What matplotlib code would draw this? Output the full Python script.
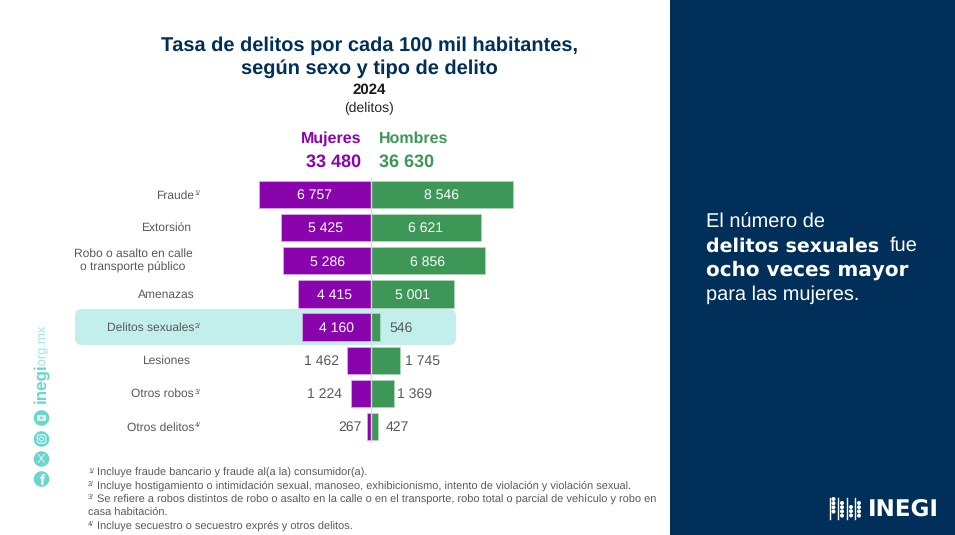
import matplotlib
matplotlib.use('Agg')
import matplotlib.pyplot as plt
from matplotlib.patches import Rectangle, FancyBboxPatch, Circle, Polygon

plt.rcParams['font.family'] = ['Liberation Sans', 'DejaVu Sans']
plt.rcParams['text.hinting'] = 'none'
plt.rcParams['text.hinting_factor'] = 1

categorias = ['Fraude', 'Extorsión', 'Robo o asalto en calle\no transporte público', 'Amenazas',
              'Delitos sexuales', 'Lesiones', 'Otros robos', 'Otros delitos']
notas_cat = ['1/', '', '', '', '2/', '', '3/', '4/']
mujeres = [6757, 5425, 5286, 4415, 4160, 1462, 1224, 267]
hombres = [8546, 6621, 6856, 5001, 546, 1745, 1369, 427]
total_mujeres = '33 480'
total_hombres = '36 630'

notas = ['Incluye fraude bancario y fraude al(a la) consumidor(a).',
         'Incluye hostigamiento o intimidación sexual, manoseo, exhibicionismo, intento de violación y violación sexual.',
         'Se refiere a robos distintos de robo o asalto en la calle o en el transporte, robo total o parcial de vehículo y robo en',
         'Incluye secuestro o secuestro exprés y otros delitos.']

MORADO = '#8a04ae'
VERDE = '#3d9756'
AZUL = '#002f59'
TEAL = '#6ad6cc'
GRIS = '#595959'
W, H = 955, 535


def fmt(v):
    return f'{v:,}'.replace(',', ' ')


fig = plt.figure(figsize=(W / 100, H / 100), dpi=100)

# capa en pixeles para todo lo que no es dato
bg = fig.add_axes([0, 0, 1, 1])
bg.set_xlim(0, W)
bg.set_ylim(H, 0)
bg.axis('off')

bg.add_patch(Rectangle((670, 0), 285, 535, color=AZUL, lw=0))
bg.add_patch(FancyBboxPatch((75, 309), 381, 36, boxstyle='round,pad=0,rounding_size=7',
                            fc='#c2efeb', ec='none'))

# titulo
bg.text(370, 45.5, 'Tasa de delitos por cada 100 mil habitantes,', ha='center', va='center',
        fontsize=14.4, fontweight='bold', color=AZUL)
bg.text(369, 69, 'según sexo y tipo de delito', ha='center', va='center',
        fontsize=14.4, fontweight='bold', color=AZUL)
bg.text(369, 90, '2024', ha='center', va='center', fontsize=11, fontweight='bold', color='#1a1a1a')
bg.text(369, 108, '(delitos)', ha='center', va='center', fontsize=9.8, color='#262626')

bg.text(361, 139, 'Mujeres', ha='right', va='center', fontsize=11.6, fontweight='bold', color=MORADO)
bg.text(379, 139, 'Hombres', ha='left', va='center', fontsize=11.6, fontweight='bold', color=VERDE)
bg.text(361, 162, total_mujeres, ha='right', va='center', fontsize=12.8, fontweight='bold', color=MORADO)
bg.text(379, 162, total_hombres, ha='left', va='center', fontsize=12.8, fontweight='bold', color=VERDE)

# barras
ax = fig.add_axes([0, (H - 443) / H, 1, (443 - 178) / H])
ax.patch.set_alpha(0)
escala = 0.0166  # pixeles por delito
ax.set_xlim(-371 / escala, (W - 371) / escala)
ax.set_ylim(7.5, -0.5)
ax.axis('off')
pos = list(range(len(categorias)))
ax.barh(pos, [-m for m in mujeres], height=0.82, color=MORADO, edgecolor='#d9b3e6', linewidth=0.5)
ax.barh(pos, hombres, height=0.82, color=VERDE, edgecolor='#b5d9c0', linewidth=0.5)
ax.axvline(0, color='#d9d9d9', lw=1)

# etiquetas de valores: dentro de la barra si cabe, afuera si no
sep_m = [0, 0, 0, 0, 0, 8, 9, 5]
sep_h = [0, 0, 0, 0, 9, 5, 3, 8]
for i, (m, h) in enumerate(zip(mujeres, hombres)):
    if m > 2000:
        ax.annotate(fmt(m), (-m / 2, i), xytext=(0, -1), textcoords='offset pixels', ha='center', va='center',
                    color='white', fontsize=10)
    else:
        ax.annotate(fmt(m), (-m, i), xytext=(-sep_m[i], -1), textcoords='offset pixels', ha='right', va='center',
                    color=GRIS, fontsize=10)
    if h > 2000:
        ax.annotate(fmt(h), (h / 2, i), xytext=(0, -1), textcoords='offset pixels', ha='center', va='center',
                    color='white', fontsize=10)
    else:
        ax.annotate(fmt(h), (h, i), xytext=(sep_h[i], -1), textcoords='offset pixels', ha='left', va='center',
                    color=GRIS, fontsize=10)

# categorias
centros = [194.5, 227, 260.5, 294, 327, 360, 393, 426.5]
for cat, nota, y in zip(categorias, notas_cat, centros):
    if '\n' in cat:
        bg.text(133, y + 0.5, cat, ha='center', va='center', fontsize=8.5, color=GRIS, linespacing=1.25)
    elif nota:
        bg.text(194, y + 1, cat, ha='right', va='center', fontsize=8.5, color=GRIS)
        bg.text(194.5, y - 1, nota, ha='left', va='center', fontsize=4.8, color=GRIS)
    else:
        bg.text(166, y + 1, cat, ha='center', va='center', fontsize=8.5, color=GRIS)

# notas al pie
ys = [473, 486, 499, 526]
for k, (txt, y) in enumerate(zip(notas, ys)):
    bg.text(88, y - 2, f'{k + 1}/', ha='left', va='center', fontsize=4.8, color=GRIS)
    bg.text(97, y, txt, ha='left', va='center', fontsize=7.9, color=GRIS)
bg.text(88, 512.5, 'casa habitación.', ha='left', va='center', fontsize=7.9, color=GRIS)

# redes sociales
bg.text(41, 403, 'inegi', rotation=90, ha='center', va='bottom', fontsize=12.3, fontweight='bold', color=TEAL)
bg.text(41, 367, '.org.mx', rotation=90, ha='center', va='bottom', fontsize=9.3, color='#9fe5de')
for y in [418, 439, 459, 479]:
    bg.add_patch(Circle((41.5, y), 7.8, color=TEAL, lw=0))
# youtube
bg.add_patch(FancyBboxPatch((37, 415), 9, 6, boxstyle='round,pad=0,rounding_size=1.5', fc='#d8f5f2', ec='none'))
bg.add_patch(Polygon([(40.5, 416.2), (40.5, 419.8), (43.5, 418)], color=TEAL, lw=0))
# instagram
bg.add_patch(FancyBboxPatch((37.3, 434.8), 8.4, 8.4, boxstyle='round,pad=0,rounding_size=2', fc='none',
                            ec='#d8f5f2', lw=0.9))
bg.add_patch(Circle((41.5, 439), 2, fc='none', ec='#d8f5f2', lw=0.9))
# x y facebook
bg.text(41.5, 459.5, 'X', ha='center', va='center', fontsize=9, color='#d8f5f2')
bg.text(42, 481, 'f', ha='center', va='center', fontsize=11, fontweight='bold', color='white')

# panel derecho
bg.text(706, 221.5, 'El número de', ha='left', va='center', fontsize=14.3, color='white')
bg.text(706, 246, 'delitos sexuales', ha='left', va='center', fontsize=13.85, color='white',
        fontweight='bold', family='DejaVu Sans')
bg.text(890, 246, 'fue', ha='left', va='center', fontsize=14.3, color='white')
bg.text(706, 270, 'ocho veces mayor', ha='left', va='center', fontsize=14.05, color='white',
        fontweight='bold', family='DejaVu Sans')
bg.text(706, 294.5, 'para las mujeres.', ha='left', va='center', fontsize=14.3, color='white')

# logo
for x in [830, 838, 847, 855]:
    bg.plot([x, x], [498, 519], color='white', lw=1)
for x, y0, n in [(833.5, 499, 4), (842, 503, 4), (851, 507, 3), (859, 503, 4)]:
    for j in range(n):
        bg.add_patch(Circle((x, y0 + j * 4.2), 2, color='white', lw=0))
bg.text(868, 509.5, 'INEGI', ha='left', va='center', fontsize=16.7, fontweight='bold', color='white',
        family='DejaVu Sans')

fig.savefig('out.png', dpi=100)
